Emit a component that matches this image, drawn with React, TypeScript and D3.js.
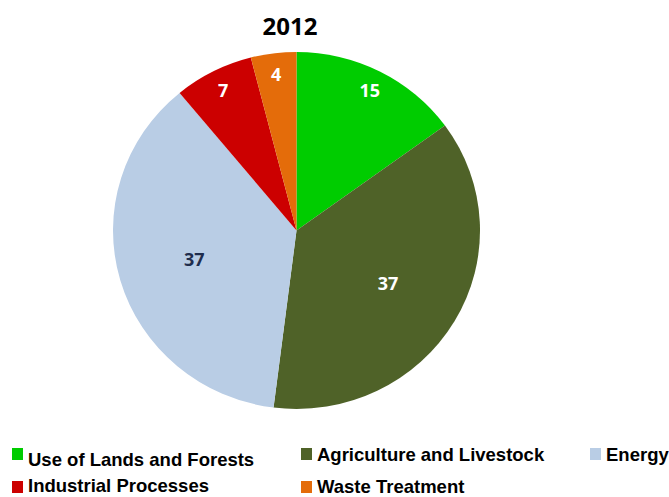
import React from "react";
import * as d3 from "d3";

const title = "2012";
const categories = [
  "Use of Lands and Forests",
  "Agriculture and Livestock",
  "Energy",
  "Industrial Processes",
  "Waste Treatment",
];
const values = [15, 37, 37, 7, 4];
const colors = ["#00CC00", "#4F6228", "#B9CDE5", "#CC0000", "#E46C0A"];
const labelColors = ["#FFFFFF", "#FFFFFF", "#1F2D4D", "#FFFFFF", "#FFFFFF"];
// legend order: [row][col] indices into categories
const legendLayout = [
  [0, 1, 2],
  [3, 4],
];

export default function App() {
  const width = 669;
  const height = 497;
  const cx = 296.5;
  const cy = 230.5;
  const rx = 183.5;
  const ry = 178.5;

  const pie = d3
    .pie<number>()
    .sort(null)
    .value((d) => d)
    .startAngle(0)
    .endAngle(2 * Math.PI);
  const arcs = pie(values);
  const arc = d3.arc<d3.PieArcDatum<number>>().innerRadius(0).outerRadius(1);

  const colX = [12, 301, 590];
  const rowY = [448, 481];
  const baseOffset = (col: number, row: number) =>
    col === 0 ? (row === 0 ? 18 : 11) : row === 0 ? 13 : 12;

  return (
    <svg
      width={width}
      height={height}
      style={{ position: "absolute", left: 0, top: 0, background: "#fff" }}
    >
      <text
        x={290}
        y={35}
        textAnchor="middle"
        fontFamily="'Open Sans', sans-serif"
        fontWeight="bold"
        fontSize={24}
        fill="#000"
      >
        {title}
      </text>
      <g transform={`translate(${cx},${cy}) scale(${rx},${ry})`}>
        {arcs.map((a, i) => (
          <path key={i} d={arc(a) || ""} fill={colors[i]} />
        ))}
      </g>
      {arcs.map((a, i) => {
        const mid = (a.startAngle + a.endAngle) / 2;
        const r = a.data < 20 ? 0.88 : 0.58;
        const x = cx + Math.sin(mid) * r * rx;
        const y = cy - Math.cos(mid) * r * ry;
        return (
          <text
            key={i}
            x={x}
            y={y}
            dy="0.36em"
            textAnchor="middle"
            fontFamily="'Open Sans', sans-serif"
            fontWeight="bold"
            fontSize={18}
            fill={labelColors[i]}
          >
            {a.data}
          </text>
        );
      })}
      {legendLayout.map((row, ri) =>
        row.map((ci, col) => (
          <g key={`${ri}-${col}`}>
            <rect x={colX[col]} y={rowY[ri]} width={11} height={12} fill={colors[ci]} />
            <text
              x={colX[col] + 16}
              y={rowY[ri] + baseOffset(col, ri)}
              fontFamily="'Liberation Sans', Arial, sans-serif"
              fontWeight="bold"
              fontSize={18.5}
              fill="#000"
            >
              {categories[ci]}
            </text>
          </g>
        ))
      )}
    </svg>
  );
}
